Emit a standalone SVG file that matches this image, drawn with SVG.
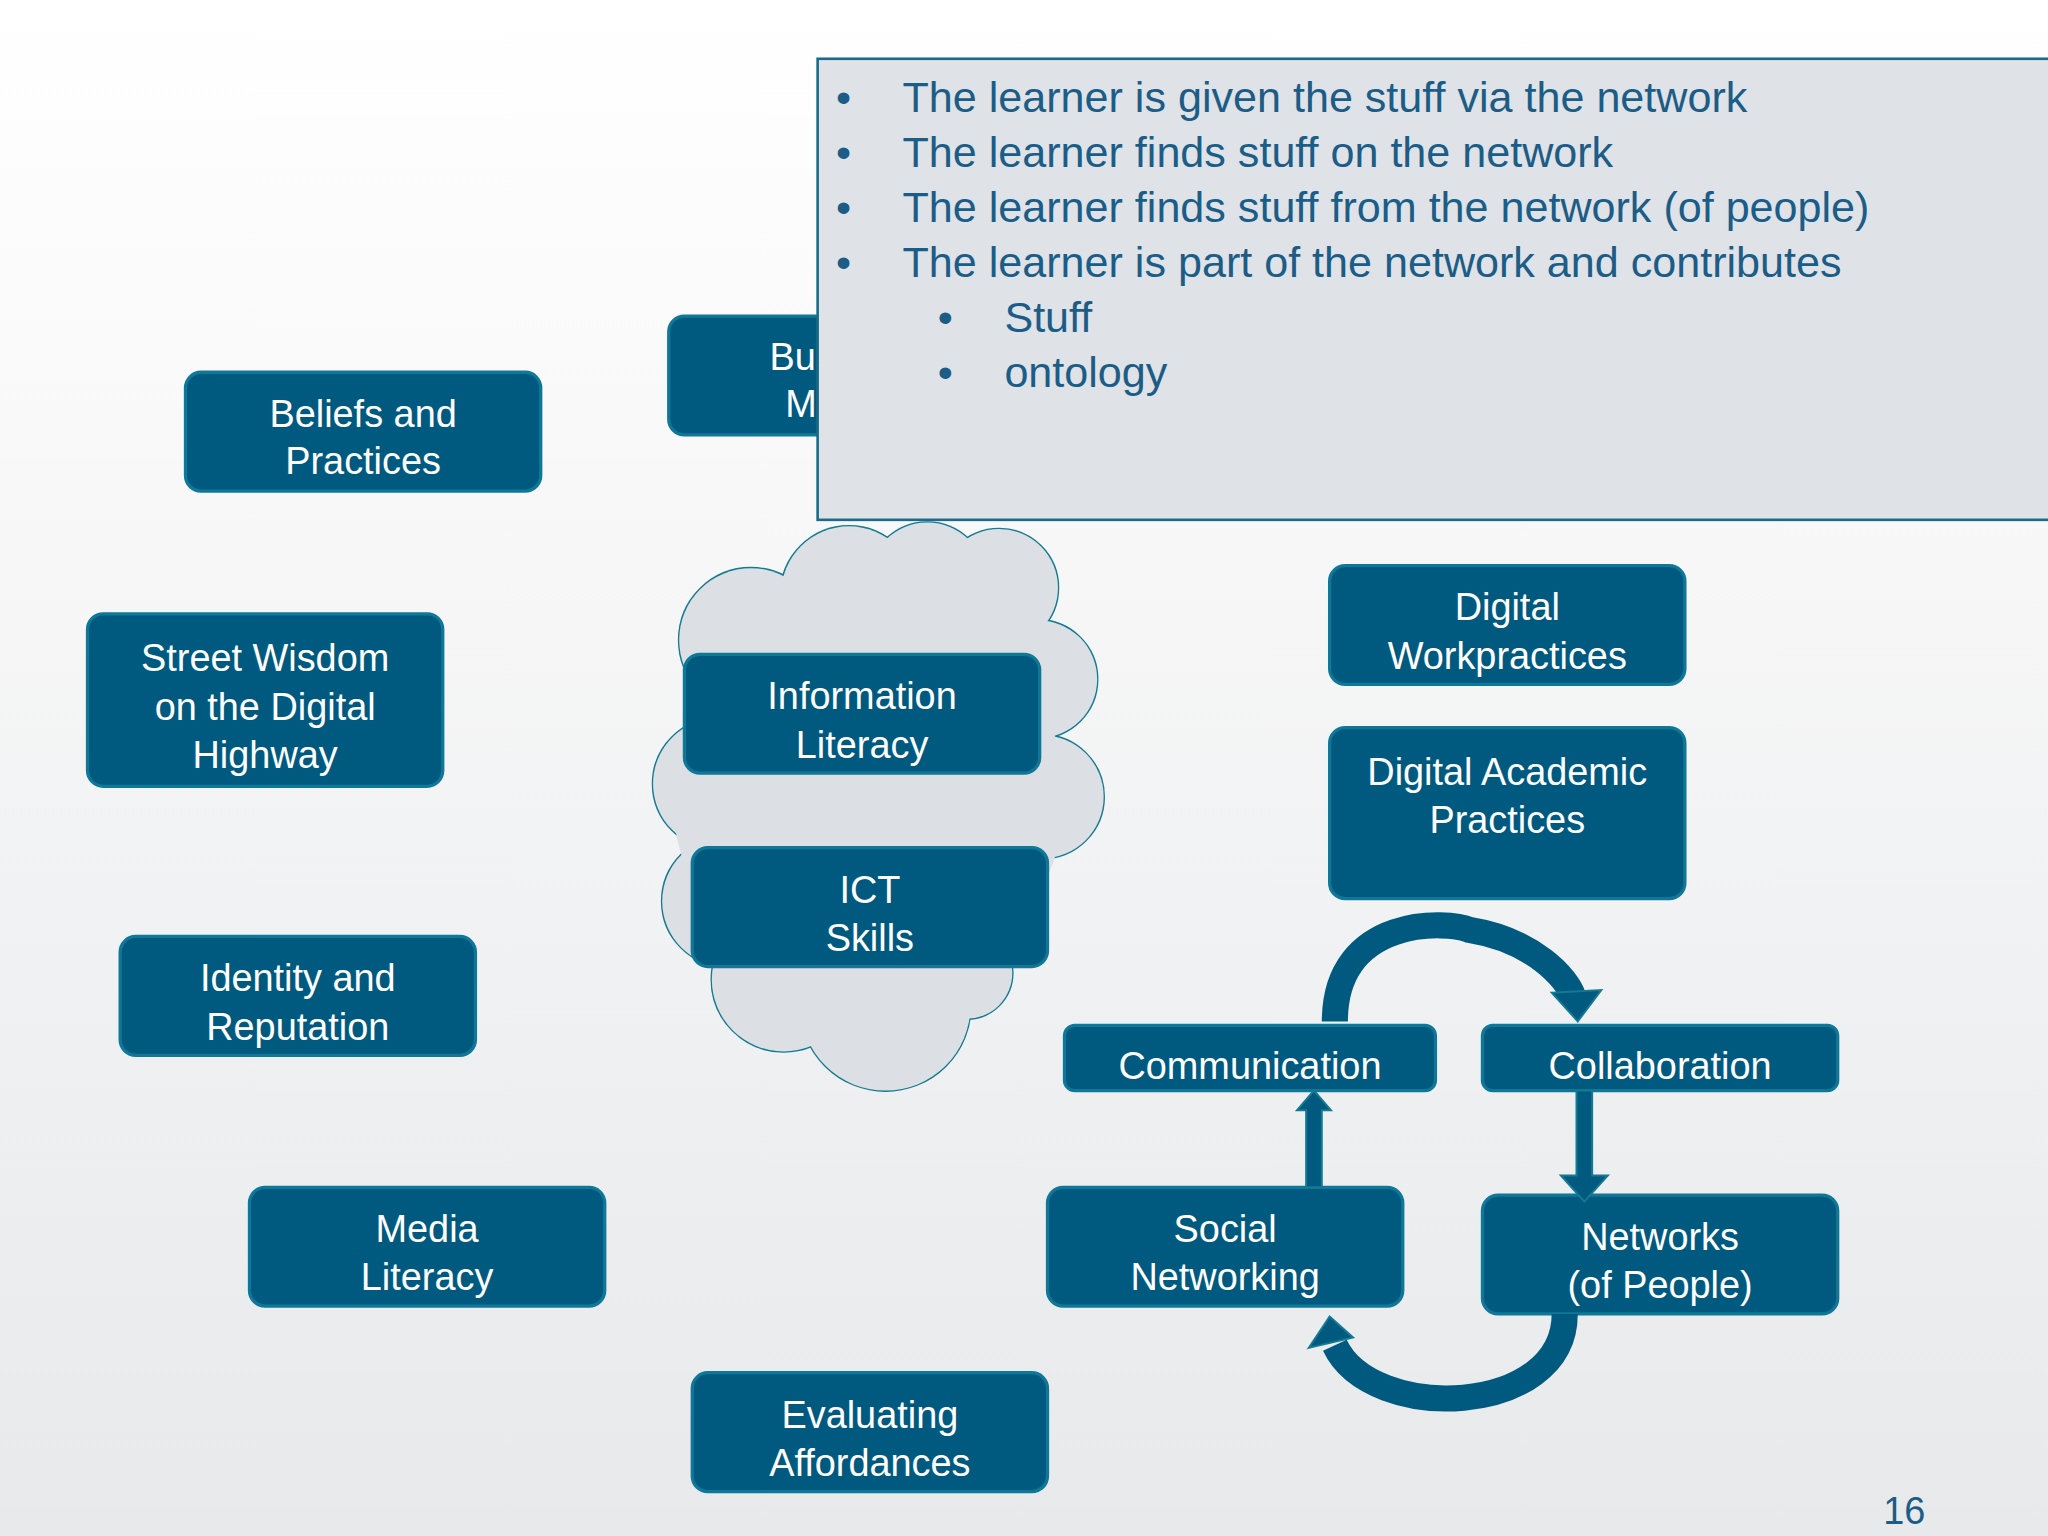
<svg xmlns="http://www.w3.org/2000/svg" width="2048" height="1536" viewBox="0 0 2048 1536">
<defs>
<linearGradient id="bg" x1="0" y1="0" x2="0" y2="1"><stop offset="0" stop-color="#ffffff"/><stop offset="1" stop-color="#e8e9eb"/></linearGradient>
<style>
.n{fill:#005a80;stroke:#0f7898;stroke-width:2.5}
.t{fill:#ffffff;font-family:"Liberation Sans",Arial,sans-serif;font-size:29px;text-anchor:middle}
.b{fill:#1b5d87;font-family:"Liberation Sans",Arial,sans-serif;font-size:33px}
.cs{fill:none;stroke:#137a92;stroke-width:2}
.cf{fill:#dcdfe3}
.ar{fill:#005a80;stroke:#137a92;stroke-width:1.5}
</style>
</defs>
<rect width="2048" height="1536" fill="url(#bg)"/>
<g transform="scale(1.30612)">
<g id="cloud">
<g class="cs"><circle cx="575" cy="490" r="55"/><circle cx="650" cy="455" r="52"/><circle cx="710" cy="445" r="45"/><circle cx="765" cy="450" r="45"/><circle cx="795" cy="520" r="45"/><circle cx="798" cy="610" r="47"/><circle cx="755" cy="700" r="40"/><circle cx="740" cy="745" r="35"/><circle cx="678" cy="770" r="65"/><circle cx="600" cy="750" r="55"/><circle cx="557" cy="690" r="50"/><circle cx="550" cy="600" r="50"/></g>
<g class="cf"><circle cx="575" cy="490" r="55"/><circle cx="650" cy="455" r="52"/><circle cx="710" cy="445" r="45"/><circle cx="765" cy="450" r="45"/><circle cx="795" cy="520" r="45"/><circle cx="798" cy="610" r="47"/><circle cx="755" cy="700" r="40"/><circle cx="740" cy="745" r="35"/><circle cx="678" cy="770" r="65"/><circle cx="600" cy="750" r="55"/><circle cx="557" cy="690" r="50"/><circle cx="550" cy="600" r="50"/><circle cx="665" cy="610" r="150"/></g>
</g>
<g id="business"><rect class="n" x="512" y="242" width="272" height="91" rx="12"/><text class="t" x="648" y="283">Business</text><text class="t" x="648" y="319">Models</text></g>
<g id="overlay"><rect x="626" y="45" width="944" height="353" fill="#dfe2e6" stroke="#1a6a8a" stroke-width="2"/>
<text class="b" x="640" y="86">•</text><text class="b" x="691" y="86">The learner is given the stuff via the network</text>
<text class="b" x="640" y="128">•</text><text class="b" x="691" y="128">The learner finds stuff on the network</text>
<text class="b" x="640" y="170">•</text><text class="b" x="691" y="170">The learner finds stuff from the network (of people)</text>
<text class="b" x="640" y="212">•</text><text class="b" x="691" y="212">The learner is part of the network and contributes</text>
<text class="b" x="718" y="254">•</text><text class="b" x="769" y="254">Stuff</text>
<text class="b" x="718" y="296">•</text><text class="b" x="769" y="296">ontology</text></g>
<g id="beliefs"><rect class="n" x="142" y="285" width="272" height="91" rx="12"/><text class="t" x="278" y="327">Beliefs and</text><text class="t" x="278" y="363">Practices</text></g>
<g id="street"><rect class="n" x="67" y="470" width="272" height="132" rx="12"/><text class="t" x="203" y="514">Street Wisdom</text><text class="t" x="203" y="551">on the Digital</text><text class="t" x="203" y="588">Highway</text></g>
<g id="info"><rect class="n" x="524" y="501" width="272" height="91" rx="12"/><text class="t" x="660" y="543">Information</text><text class="t" x="660" y="580">Literacy</text></g>
<g id="ict"><rect class="n" x="530" y="649" width="272" height="91" rx="12"/><text class="t" x="666" y="691">ICT</text><text class="t" x="666" y="728">Skills</text></g>
<g id="identity"><rect class="n" x="92" y="717" width="272" height="91" rx="12"/><text class="t" x="228" y="759">Identity and</text><text class="t" x="228" y="796">Reputation</text></g>
<g id="media"><rect class="n" x="191" y="909" width="272" height="91" rx="12"/><text class="t" x="327" y="951">Media</text><text class="t" x="327" y="988">Literacy</text></g>
<g id="evaluating"><rect class="n" x="530" y="1051" width="272" height="91" rx="12"/><text class="t" x="666" y="1093">Evaluating</text><text class="t" x="666" y="1130">Affordances</text></g>
<g id="workpractices"><rect class="n" x="1018" y="433" width="272" height="91" rx="12"/><text class="t" x="1154" y="475">Digital</text><text class="t" x="1154" y="512">Workpractices</text></g>
<g id="academic"><rect class="n" x="1018" y="557" width="272" height="131" rx="12"/><text class="t" x="1154" y="601">Digital Academic</text><text class="t" x="1154" y="638">Practices</text></g>
<g id="communication"><rect class="n" x="815" y="785" width="284" height="50" rx="8"/><text class="t" x="957" y="826">Communication</text></g>
<g id="collaboration"><rect class="n" x="1135" y="785" width="272" height="50" rx="8"/><text class="t" x="1271" y="826">Collaboration</text></g>
<g id="social"><rect class="n" x="802" y="909" width="272" height="91" rx="12"/><text class="t" x="938" y="951">Social</text><text class="t" x="938" y="988">Networking</text></g>
<g id="networks"><rect class="n" x="1135" y="915" width="272" height="91" rx="12"/><text class="t" x="1271" y="957">Networks</text><text class="t" x="1271" y="994">(of People)</text></g>
<g id="connectors">
<path d="M1000,909 V850 H993 L1006,835 L1019,850 H1012 V909 Z" class="ar"/>
<path d="M1207,835 V900 H1195 L1213,920 L1231,900 H1219 V835 Z" class="ar"/>
<path d="M1022,782 C1022,700 1110,705 1125,712 C1175,720 1200,750 1204,762" fill="none" stroke="#005a80" stroke-width="20"/>
<polygon points="1188,760 1226,758 1208,782" class="ar"/>
<path d="M1198,1006 C1198,1085 1050,1090 1022,1030" fill="none" stroke="#005a80" stroke-width="20"/>
<polygon points="1002,1032 1036,1024 1018,1008" class="ar"/>
</g>
<text x="1458" y="1167" fill="#1b5d87" font-family="Liberation Sans, Arial, sans-serif" font-size="29" text-anchor="middle">16</text>
</g>
</svg>
